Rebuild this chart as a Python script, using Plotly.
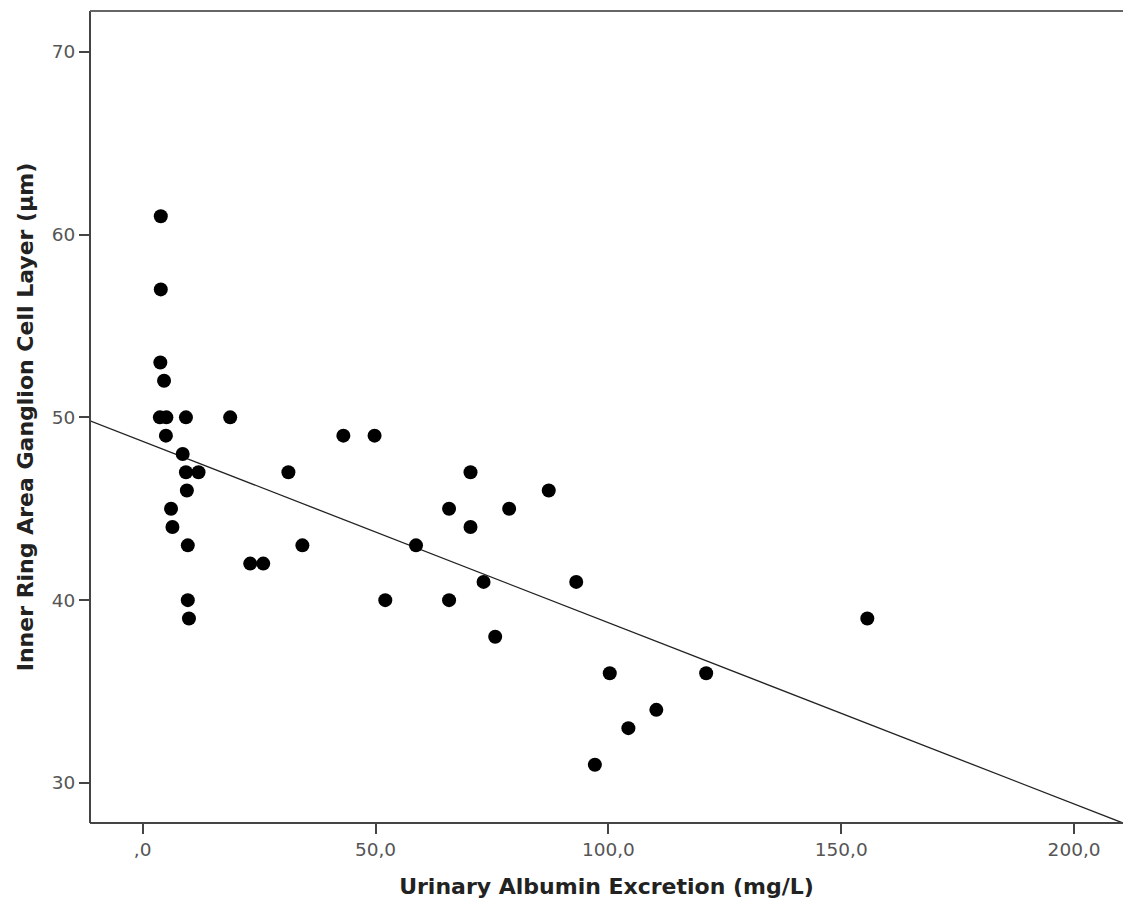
import numpy as np
import plotly.graph_objects as go

# Urinary albumin excretion (mg/L)
uae = [3.9, 3.9, 3.8, 4.6, 3.7, 5.1, 9.3, 18.8, 5.0, 8.6, 9.3, 12.0, 9.5, 6.1, 6.4,
       9.7, 9.7, 9.95, 31.3, 23.1, 25.9, 34.3, 52.1, 43.1, 49.8, 58.7, 70.4, 65.8,
       78.7, 87.2, 70.4, 73.2, 93.1, 65.8, 75.7, 100.3, 121.0, 110.3, 104.3, 97.1, 155.6]
# Inner ring area GCL thickness (µm)
gcl = [61, 57, 53, 52, 50, 50, 50, 50, 49, 48, 47, 47, 46, 45, 44,
       43, 40, 39, 47, 42, 42, 43, 40, 49, 49, 43, 47, 45,
       45, 46, 44, 41, 41, 40, 38, 36, 36, 34, 33, 31, 39]

# Linear fit line as drawn in the chart (intercept, slope)
fit_coef = [48.69, -0.0992]

x_tickvals = [0, 50, 100, 150, 200]
x_ticktext = [",0", "50,0", "100,0", "150,0", "200,0"]
y_tickvals = [30, 40, 50, 60, 70]

x_range = [-11.3, 210.5]
y_range = [27.81, 72.23]

line_x = np.array(x_range)
line_y = fit_coef[0] + fit_coef[1] * line_x

fig = go.Figure()
fig.add_trace(go.Scatter(x=line_x, y=line_y, mode="lines",
                         line=dict(color="#222222", width=1.3),
                         showlegend=False, hoverinfo="skip"))
fig.add_trace(go.Scatter(x=uae, y=gcl, mode="markers",
                         marker=dict(color="black", size=14, line=dict(width=0)),
                         showlegend=False))

axis_common = dict(showgrid=False, zeroline=False, showline=False,
                   ticks="outside", ticklen=10, tickwidth=2, tickcolor="#444444",
                   tickfont=dict(family="DejaVu Sans", size=18.5, color="#555555"))

# frame: left, bottom and top lines (no right-hand frame line in the original)
fig.add_shape(type="line", xref="paper", yref="paper", x0=0, x1=0, y0=0, y1=1,
              line=dict(color="#444444", width=2))
fig.add_shape(type="line", xref="paper", yref="paper", x0=0, x1=1.01, y0=0, y1=0,
              line=dict(color="#444444", width=2))
fig.add_shape(type="line", xref="paper", yref="paper", x0=0, x1=1.01, y0=1, y1=1,
              line=dict(color="#666666", width=2))

fig.update_layout(
    width=1123, height=906,
    margin=dict(l=90, r=0, t=11, b=83),
    paper_bgcolor="white", plot_bgcolor="white",
    xaxis=dict(range=x_range, tickvals=x_tickvals, ticktext=x_ticktext,
               title=dict(text="<b>Urinary Albumin Excretion (mg/L)</b>", standoff=19,
                          font=dict(family="DejaVu Sans", size=22, color="#222222")),
               **axis_common),
    yaxis=dict(range=y_range, tickvals=y_tickvals,
               title=dict(text="<b>Inner Ring Area Ganglion Cell Layer (µm)</b>", standoff=12,
                          font=dict(family="DejaVu Sans", size=22, color="#222222")),
               **axis_common),
)

fig.write_html("out.html")
